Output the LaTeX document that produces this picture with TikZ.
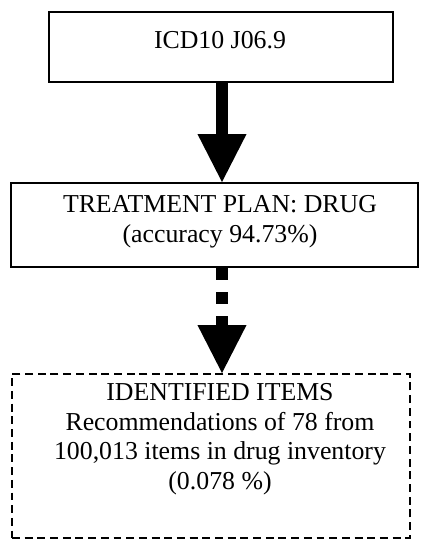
\documentclass[tikz,border=0pt]{standalone}
\usepackage{fontspec}
\setmainfont{Liberation Serif}
\usetikzlibrary{arrows.meta,positioning,calc,fit}
\tikzset{
  solidbox/.style ={draw,line width=1.2pt,inner sep=0pt},
  planbox/.style  ={draw,line width=0.9pt,inner sep=0pt},
  dashbox/.style  ={draw,line width=0.9pt,inner sep=0pt,dash pattern=on 3.7pt off 2.2pt},
  txt/.style      ={font=\fontsize{12pt}{13.8pt}\selectfont,align=center,inner sep=0pt,anchor=north},
  fatar/.style    ={line width=5.6pt,-{Triangle[length=22.3pt,width=22.8pt,line width=0pt 0 0]}},
  dashfatar/.style={fatar,dash pattern=on 5.6pt off 5.6pt},
}

\begin{document}
\begin{tikzpicture}[x=0.465pt,y=-0.465pt]
  \useasboundingbox (0,0) rectangle (422,540);
  \node[solidbox,fit={(49,12)(393,82)}] (icd) {};
  \node[planbox,fit={(11,183)(418,267)}] (plan) {};
  \node[dashbox,fit={(12,374)(410,538)}] (items) {};
  \node[txt] (icdtxt) at (220,31) {ICD10 J06.9};
  \node[txt] (plantxt) at (220,195) {TREATMENT PLAN: DRUG\\(accuracy 94.73\%)};
  \node[txt] (itemstxt) at (220,383) {IDENTIFIED ITEMS\\Recommendations of 78 from\\100,013 items in drug inventory\\(0.078 \%)};
  \coordinate (axis) at (222,0);
  \draw[fatar] (icd.south -| axis) -- (plan.north -| axis);
  \draw[dashfatar] (plan.south -| axis) -- (items.north -| axis);
\end{tikzpicture}
\end{document}
